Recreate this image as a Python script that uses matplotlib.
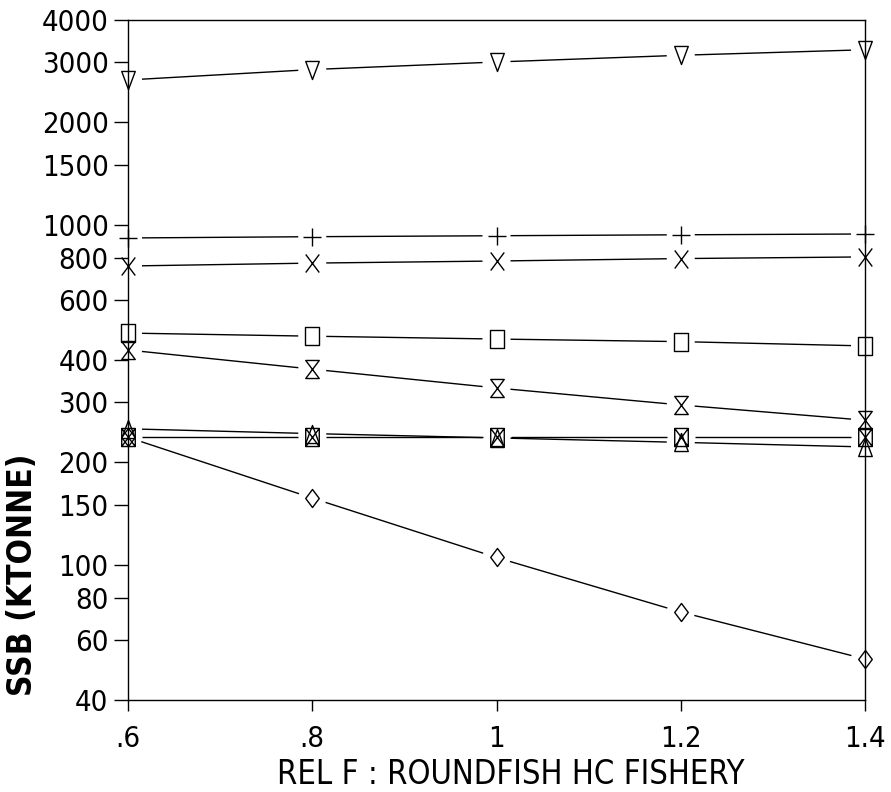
import numpy as np
import matplotlib
matplotlib.use('Agg')
import matplotlib.pyplot as plt
from matplotlib.path import Path

plt.rcParams['font.family'] = ['DejaVu Sans']

# relative F multipliers on the roundfish human consumption fleet
rel_f = [0.6, 0.8, 1.0, 1.2, 1.4]

# SSB (ktonne) per stock
ssb_down_tri = [2665, 2860, 3010, 3150, 3270]
ssb_plus = [914, 922, 928, 934, 939]
ssb_cross = [756, 771, 782, 795, 804]
ssb_square = [480, 470, 461, 453, 440]
ssb_hourglass = [428, 376, 331, 295, 266]
ssb_up_tri = [251, 243, 236, 229, 222]
ssb_boxx = [237, 237, 237, 237, 237]
ssb_diamond = [237, 157, 105, 72.6, 52.8]

yticks = [40, 60, 80, 100, 150, 200, 300, 400, 600, 800, 1000, 1500, 2000, 3000, 4000]
xticks = [0.6, 0.8, 1.0, 1.2, 1.4]
xticklabels = ['.6', '.8', '1', '1.2', '1.4']

# marker outlines, slightly taller than wide like plotter symbols
w = 0.75
C = Path.CLOSEPOLY
M, L = Path.MOVETO, Path.LINETO
mk_down = Path([(-w, 1), (w, 1), (0, -1), (0, 0)], [M, L, L, C])
mk_up = Path([(-w, -1), (w, -1), (0, 1), (0, 0)], [M, L, L, C])
mk_square = Path([(-w, -1), (w, -1), (w, 1), (-w, 1), (0, 0)], [M, L, L, L, C])
mk_boxx = Path([(-w, -1), (w, -1), (w, 1), (-w, 1), (-w, -1), (w, 1), (-w, 1), (w, -1)],
               [M, L, L, L, L, L, M, L])
mk_hour = Path([(-w, 1), (w, 1), (-w, -1), (w, -1), (0, 0)], [M, L, L, L, C])
mk_diamond = Path([(0, 1), (w, 0), (0, -1), (-w, 0), (0, 0)], [M, L, L, L, C])
mk_plus = Path([(-w, 0), (w, 0), (0, -w), (0, w)], [M, L, M, L])
mk_cross = Path([(-w, -1), (w, 1), (-w, 1), (w, -1)], [M, L, M, L])

series = [
    (ssb_down_tri, mk_down),
    (ssb_plus, mk_plus),
    (ssb_cross, mk_cross),
    (ssb_square, mk_square),
    (ssb_hourglass, mk_hour),
    (ssb_up_tri, mk_up),
    (ssb_boxx, mk_boxx),
    (ssb_diamond, mk_diamond),
]

fig = plt.figure(figsize=(8.91, 7.92), dpi=100)
ax = fig.add_axes([128 / 891, 92 / 792, 737 / 891, 680 / 792])
ax.set_yscale('log')
ax.set_xlim(0.6, 1.4)
ax.set_ylim(40, 4000)

# line segments stop short of each symbol
gap = 14.0
for vals, mk in series:
    pts = ax.transData.transform(np.column_stack([rel_f, vals]))
    for p0, p1 in zip(pts[:-1], pts[1:]):
        d = p1 - p0
        u = d / np.hypot(*d)
        seg = ax.transData.inverted().transform([p0 + u * gap, p1 - u * gap])
        ax.plot(seg[:, 0], seg[:, 1], color='black', lw=1.0, solid_capstyle='butt')
    ax.plot(rel_f, vals, linestyle='none', marker=mk, markersize=13,
            markerfacecolor='none', markeredgecolor='black', markeredgewidth=1.0,
            clip_on=False, zorder=3)

ax.set_yticks(yticks)
ax.set_yticklabels([str(t) for t in yticks])
ax.yaxis.set_minor_locator(matplotlib.ticker.NullLocator())
ax.set_xticks(xticks)
ax.set_xticklabels(xticklabels)

for s in ax.spines.values():
    s.set_linewidth(1.0)
ax.tick_params(axis='y', direction='out', length=10, width=1.0, pad=4, labelsize=21)
ax.tick_params(axis='x', direction='out', length=8, width=1.0, pad=10, labelsize=21)
for lab in ax.get_xticklabels() + ax.get_yticklabels():
    lab.set_fontstretch('condensed')

fig.text(511 / 891, 1 - 775 / 792, 'REL F : ROUNDFISH HC FISHERY', ha='center', va='center',
         fontsize=23.5, fontstretch='condensed')
fig.text(23 / 891, 1 - 575 / 792, 'SSB (KTONNE)', ha='center', va='center',
         rotation=90, fontsize=24, fontweight='bold', fontstretch='condensed')

fig.savefig('out.png', dpi=100)
